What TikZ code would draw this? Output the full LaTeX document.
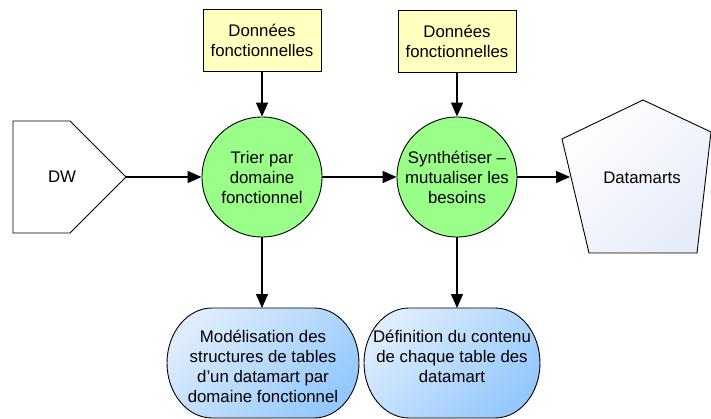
\documentclass[tikz,border=0pt]{standalone}
\usepackage{fontspec}
\setmainfont{Liberation Sans}
\usetikzlibrary{arrows.meta}
\definecolor{boxyellow}{RGB}{255,255,192}
\definecolor{procgreen}{RGB}{153,255,136}
\definecolor{blueA}{RGB}{222,236,252}
\definecolor{blueB}{RGB}{148,200,252}
\definecolor{pentA}{RGB}{255,255,255}
\definecolor{pentB}{RGB}{230,236,248}
\begin{document}
\begin{tikzpicture}[x=1pt,y=1pt,
 txt/.style={font=\fontsize{16.8}{20}\selectfont, align=center, inner sep=0pt},
 databox/.style={draw, fill=boxyellow, line width=0.9pt, minimum width=118pt, minimum height=62pt, txt},
 proc/.style={circle, draw, fill=procgreen, line width=0.9pt, minimum size=120pt, txt},
 flow/.style={line width=1.3pt, -{Triangle[length=14pt,width=12pt]}},
 outline/.style={draw, line width=0.9pt}]
\useasboundingbox (0,0) rectangle (711,-419);
% input boxes
\node[databox] (d1) at (262,-40) {Données\\fonctionnelles};
\node[databox] (d2) at (457,-41.5) {Données\\fonctionnelles};
% processes
\node[proc] (p1) at (262,-177) {Trier par\\domaine\\fonctionnel};
\node[proc] (p2) at (457,-177) {Synthétiser –\\mutualiser les\\besoins};
% DW source
\draw[outline, fill=white] (13,-121) -- (70,-121) -- (126,-177) -- (70,-233) -- (13,-233) -- cycle;
\coordinate (dwtip) at (126,-177);
\node[txt] (dw) at (62,-177) {DW};
% Datamarts pentagon
\draw[outline, top color=pentA, bottom color=pentB, shading angle=45]
  (643,-100) -- (711,-132) -- (697,-253) -- (589,-253) -- (562,-139) -- cycle;
\coordinate (dmin) at (570,-177);
\node[txt] (dm) at (642,-178) {Datamarts};
% bottom outputs
\draw[outline, top color=blueA, bottom color=blueB, shading angle=45]
  (212,-308) -- (314,-308) .. controls (339,-308) and (359,-333) .. (359,-363)
  .. controls (359,-393) and (339,-418) .. (314,-418) -- (212,-418)
  .. controls (187,-418) and (167,-393) .. (167,-363)
  .. controls (167,-333) and (187,-308) .. (212,-308) -- cycle;
\coordinate (m1top) at (262,-308);
\node[txt] (m1) at (263,-366) {Modélisation des\\structures de tables\\d’un datamart par\\domaine fonctionnel};
\draw[outline, top color=blueA, bottom color=blueB, shading angle=45]
  (409,-308) -- (495,-308) .. controls (520,-308) and (540,-333) .. (540,-363)
  .. controls (540,-393) and (520,-418) .. (495,-418) -- (409,-418)
  .. controls (384,-418) and (364,-393) .. (364,-363)
  .. controls (364,-333) and (384,-308) .. (409,-308) -- cycle;
\coordinate (m2top) at (457,-308);
\node[txt] (m2) at (452,-356) {Définition du contenu\\de chaque table des\\datamart};
% connectors
\draw[flow] (dwtip) -- (p1);
\draw[flow] (d1) -- (p1);
\draw[flow] (d2) -- (p2);
\draw[flow] (p1) -- (p2);
\draw[flow] (p2.east) -- (dmin);
\draw[flow] (p1) -- (m1top);
\draw[flow] (p2) -- (m2top);
\end{tikzpicture}
\end{document}
